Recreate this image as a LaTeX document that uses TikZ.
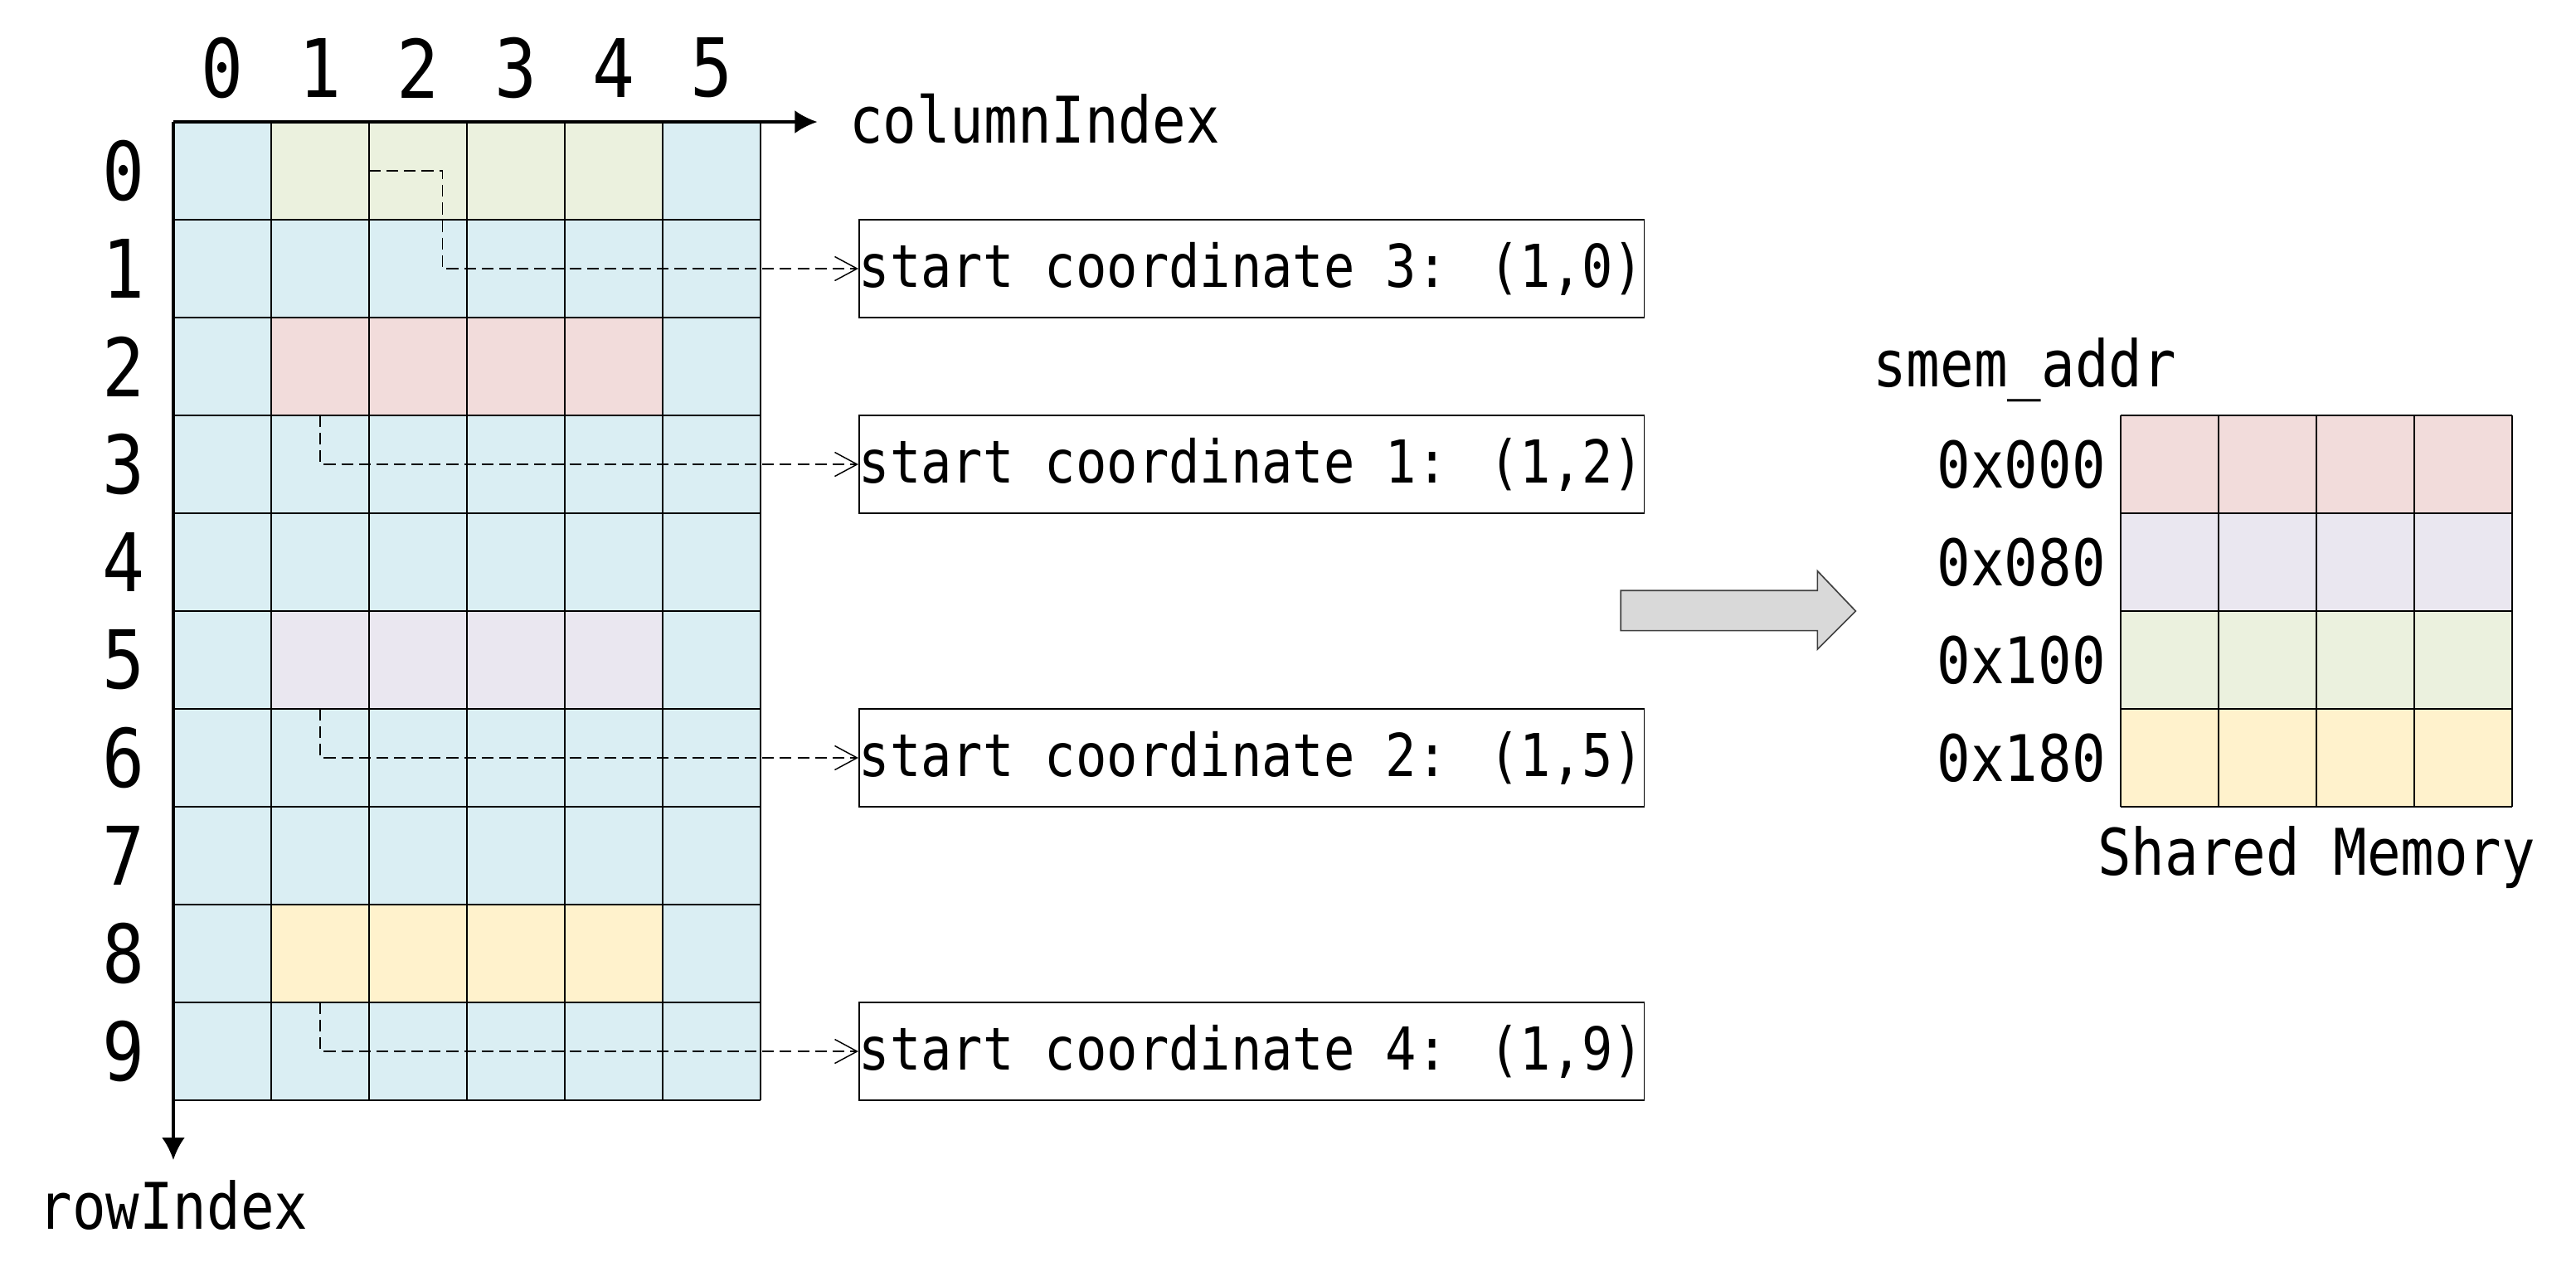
\documentclass[tikz,border=0pt]{standalone}
\usepackage{fontspec}
\newfontfamily\monofont[FakeStretch=0.87]{DejaVu Sans Mono}
\usetikzlibrary{arrows.meta}
\definecolor{cellblue}{HTML}{DAEEF3}
\definecolor{cellgreen}{HTML}{EBF1DE}
\definecolor{cellpink}{HTML}{F2DCDB}
\definecolor{celllilac}{HTML}{EAE7F0}
\definecolor{cellyellow}{HTML}{FFF2CC}
\definecolor{arrowgray}{HTML}{D9D9D9}

\begin{document}
\begin{tikzpicture}[
		idx/.style={inner sep=0pt, font=\monofont\fontsize{23.5}{28}\selectfont},
		lbl/.style={inner sep=0pt, font=\monofont\fontsize{18.7}{22}\selectfont},
		coordbox/.style={draw, line width=0.4pt, minimum width=8cm, minimum height=1cm, inner sep=0pt, anchor=west, font=\monofont\fontsize{17.2}{20}\selectfont},
		axis/.style={line width=0.8pt, -{Latex[length=6.5pt,width=6.7pt]}},
		link/.style={line width=0.35pt, dash pattern=on 3.4pt off 1.7pt, -{Straight Barb[length=6.5pt,width=7pt]}}]
	\useasboundingbox (-1.771, 1.246) rectangle (24.551, -11.839);
	\fill[cellblue] (0, 0) rectangle (6, -10);
	\fill[cellgreen] (1, 0) rectangle (5, -1);
	\fill[cellpink] (1, -2) rectangle (5, -3);
	\fill[celllilac] (1, -5) rectangle (5, -6);
	\fill[cellyellow] (1, -8) rectangle (5, -9);
	\draw[line width=0.4pt] (0, -10) grid (6, 0);
	\foreach \c in {0,...,5}
		\node[idx] (col\c) at (\c + 0.5, 0.55) {\c};
	\foreach \r in {0,...,9}
		\node[idx] (row\r) at (-0.51, -\r - 0.5) {\r};
	\coordinate (origin) at (0, 0);
	\coordinate (colend) at (6.58, 0);
	\coordinate (rowend) at (0, -10.61);
	\draw[axis] (origin) -- (colend);
	\draw[axis] (origin) -- (rowend);
	\node[lbl, anchor=base west] (colname) at (6.9, -0.22) {columnIndex};
	\node[lbl, anchor=base] (rowname) at (0, -11.32) {rowIndex};

	\node[coordbox] (start3) at (7, -1.5) {start coordinate 3: (1,0)};
	\node[coordbox] (start1) at (7, -3.5) {start coordinate 1: (1,2)};
	\node[coordbox] (start2) at (7, -6.5) {start coordinate 2: (1,5)};
	\node[coordbox] (start4) at (7, -9.5) {start coordinate 4: (1,9)};
	\coordinate (from3) at (2, -0.5);
	\coordinate (bend3) at (2.75, -0.5);
	\coordinate (from1) at (1.5, -3);
	\coordinate (from2) at (1.5, -6);
	\coordinate (from4) at (1.5, -9);
	\draw[link] (from3) -- (bend3) |- (start3.west);
	\draw[link] (from1) |- (start1.west);
	\draw[link] (from2) |- (start2.west);
	\draw[link] (from4) |- (start4.west);

	\filldraw[fill=arrowgray, draw=black!75, line width=0.4pt] (14.79, -4.79) -- (16.8, -4.79) -- (16.8, -4.59) -- (17.19, -5) -- (16.8, -5.39) -- (16.8, -5.2) -- (14.79, -5.2) -- cycle;

	\begin{scope}[shift={(19.9, -3)}]
		\fill[cellpink] (0, 0) rectangle (4, -1);
		\fill[celllilac] (0, -1) rectangle (4, -2);
		\fill[cellgreen] (0, -2) rectangle (4, -3);
		\fill[cellyellow] (0, -3) rectangle (4, -4);
		\draw[line width=0.4pt] (0, -4) grid (4, 0);
	\end{scope}
	\foreach \a [count=\i from 0] in {0x000,0x080,0x100,0x180}
		\node[lbl, anchor=east] (addr\i) at (19.75, -\i - 3.5) {\a};
	\node[lbl, anchor=base west] (addrname) at (17.36, -2.71) {smem\_addr};
	\node[lbl, anchor=base] (smemname) at (21.9, -7.7) {Shared Memory};
\end{tikzpicture}
\end{document}
